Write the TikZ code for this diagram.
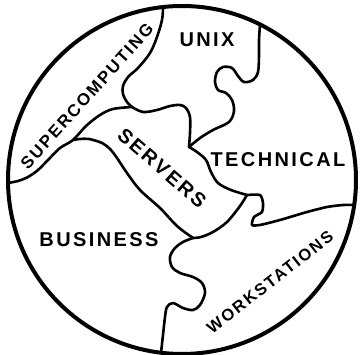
\documentclass[tikz,border=0pt]{standalone}
\usepackage{fontspec}
\setmainfont{Liberation Sans}
\newfontfamily\lblfont[LetterSpace=12]{Liberation Sans Bold}
\begin{document}
\begin{tikzpicture}[x=1pt,y=-1pt,
  seam/.style={line width=2.6pt, line join=round, line cap=round},
  rim/.style={line width=4pt},
  lbl/.style={inner sep=0pt, anchor=center}]
\useasboundingbox (0,0) rectangle (360,355);
% outer circle
\draw[rim] (182,180) circle[radius=174pt];
% junctions
\coordinate (J1) at (132,107);
\coordinate (J2) at (73,140);
\coordinate (J3) at (189,147);
\coordinate (J4) at (247,195);
\coordinate (T) at (193,238);
% supercomputing / unix
\draw[seam] plot[smooth, tension=0.55] coordinates {(163,8) (162,20) (157,37) (150,53) (138,68) (128,77) (123,86) (123,94) (127,102) (J1)};
% supercomputing lower boundary
\draw[seam] plot[smooth, tension=0.55] coordinates {(J1) (113,109) (100,115) (86,126) (J2) (60,148) (48,160) (38,170) (28,177) (18,181) (8,183)};
% servers lower-left
\draw[seam] plot[smooth, tension=0.55] coordinates {(J2) (80,139) (89,139) (102,143) (110,149) (117,158) (127,173) (140,190) (160,208) (177,226) (T)};
% unix bottom
\draw[seam] plot[smooth, tension=0.55] coordinates {(J1) (143,112) (157,110) (170,106) (180,105) (186,108) (190,117) (190,133) (J3)};
% unix / technical
\draw[seam] plot[smooth, tension=0.55] coordinates {(J3) (200,138) (213,130) (229,122) (234,111) (232,100) (226,93) (218,90) (215,82) (217,72) (223,67) (232,68) (238,76) (244,82) (253,80) (258,72) (259,55) (259,40) (260,25)};
% servers right
\draw[seam] plot[smooth, tension=0.55] coordinates {(J3) (197,152) (206,160) (211,172) (218,183) (231,190) (J4)};
% servers bottom right
\draw[seam] plot[smooth, tension=0.55] coordinates {(J4) (240,206) (227,222) (213,232) (201,237) (T)};
% technical / workstations
\draw[seam] plot[smooth, tension=0.4] coordinates {(J4) (260,195) (263,203) (262,212) (254,217) (252,225) (260,225) (280,220) (307,212) (327,207) (343,205) (355,205)};
% business / workstations
\draw[seam] plot[smooth, tension=0.55] coordinates {(T) (183,242) (175,248) (170,257) (172,267) (180,273) (193,277) (202,283) (205,293) (200,305) (193,310) (183,308) (173,303) (167,307) (165,317) (163,335) (161,353)};
% labels
\node[lbl, font=\lblfont\fontsize{20}{20}\selectfont] (unix) at (207,40) {UNIX};
\node[lbl, font=\lblfont\fontsize{20}{20}\selectfont] (tech) at (278,160) {TECHNICAL};
\node[lbl, font=\lblfont\fontsize{20}{20}\selectfont] (bus) at (99,240) {BUSINESS};
\node[lbl, font=\lblfont\fontsize{20}{20}\selectfont, rotate=-41] (serv) at (162,168) {SERVERS};
\node[lbl, font=\lblfont\fontsize{17}{17}\selectfont, rotate=48] (super) at (87,96) {SUPERCOMPUTING};
\node[lbl, font=\lblfont\fontsize{16.5}{16.5}\selectfont, rotate=38] (work) at (270,282) {WORKSTATIONS};
\end{tikzpicture}
\end{document}
